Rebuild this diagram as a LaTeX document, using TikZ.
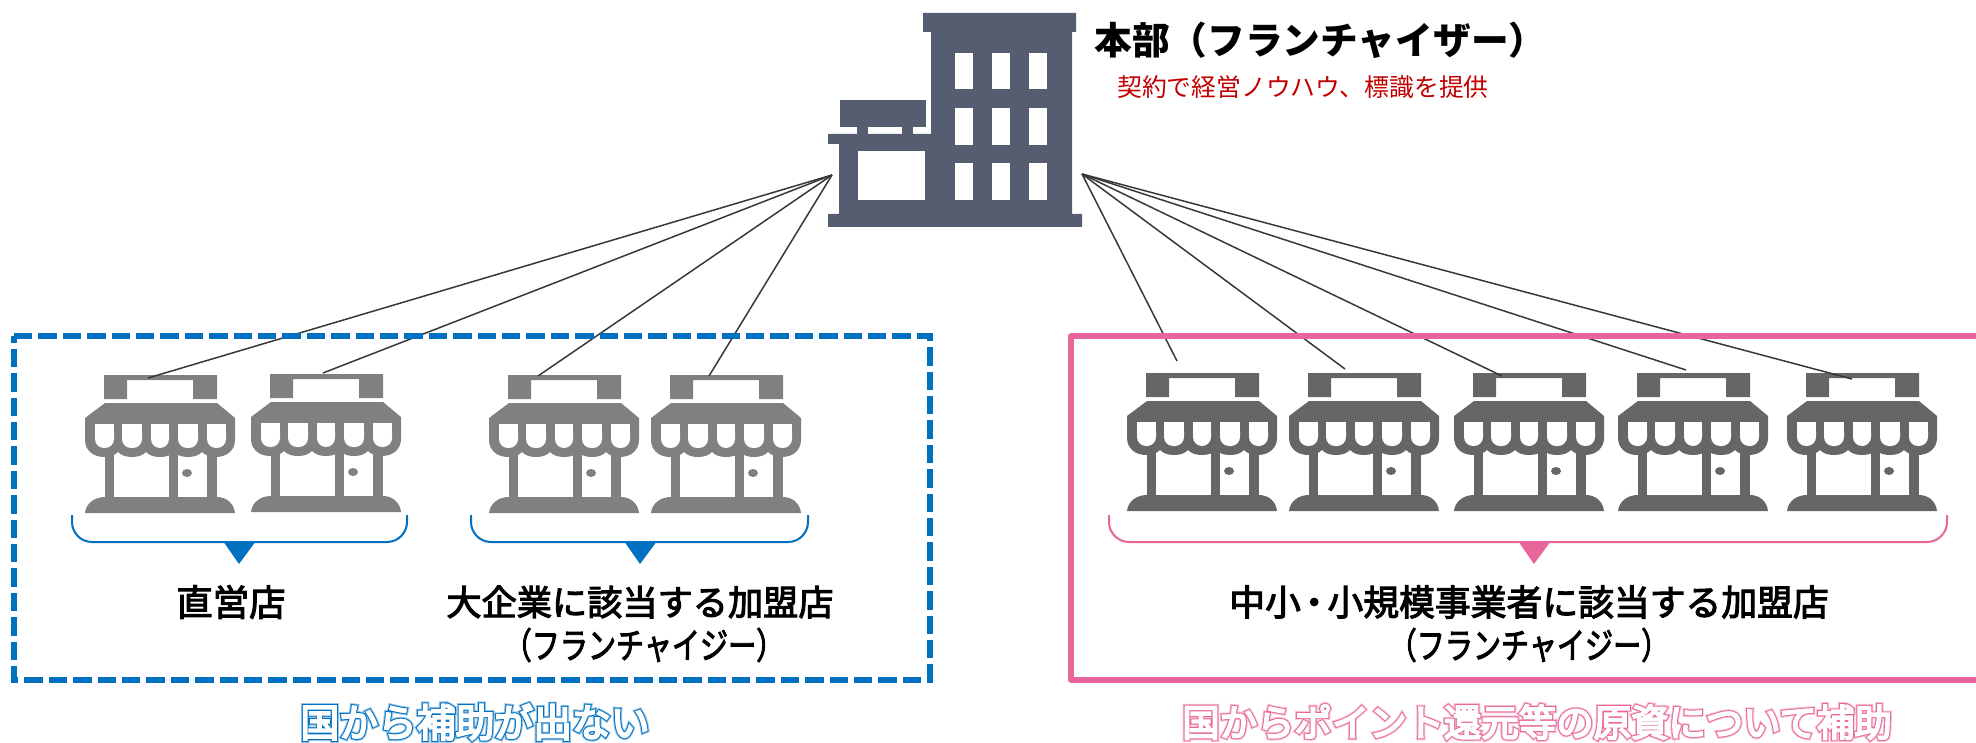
\documentclass[tikz,border=0pt]{standalone}
\usepackage{fontspec}
\setmainfont{Noto Sans CJK JP}
\newfontfamily\condfont[FakeStretch=0.78,FakeBold=2.4]{Noto Sans CJK JP}
\newfontfamily\labfont[FakeBold=3]{Noto Sans CJK JP}
\newfontfamily\glowA[FakeBold=15]{Noto Sans CJK JP}
\newfontfamily\glowB[FakeBold=10]{Noto Sans CJK JP}
\newfontfamily\glowC[FakeBold=5]{Noto Sans CJK JP}
\definecolor{bldg}{HTML}{575D70}
\definecolor{storeL}{HTML}{808080}
\definecolor{storeR}{HTML}{666666}
\definecolor{myblue}{HTML}{0070C0}
\definecolor{mypink}{HTML}{E8669A}
\definecolor{myred}{HTML}{C00000}
\definecolor{linegray}{HTML}{383838}
\tikzset{
  pics/store/.style={code={
    \fill[#1,even odd rule] (19,0) -- (132,0) -- (132,24) -- (108,24) -- (108,5) -- (42,5) -- (42,24) -- (19,24) -- cycle;
    \fill[#1] (20,28) -- (132,28) -- (150,43) -- (150,65)
      .. controls (150,75) and (142,82) .. (131,82)
      .. controls (124,82) and (120,80) .. (117,77)
      .. controls (114,80) and (110,82) .. (103,82)
      .. controls (96,82) and (92,80) .. (89,77)
      .. controls (86,80) and (82,82) .. (75,82)
      .. controls (68,82) and (64,80) .. (61,77)
      .. controls (58,80) and (54,82) .. (47,82)
      .. controls (40,82) and (36,80) .. (33,77)
      .. controls (30,80) and (26,82) .. (19,82)
      .. controls (8,82) and (0,75) .. (0,65) -- (0,43) -- cycle;
    \fill[#1] (20,75) rectangle (29,125);
    \fill[#1] (84,75) rectangle (93,125);
    \fill[#1] (122,75) rectangle (132,125);
    \fill[#1] (0,138) .. controls (1,128) and (10,122) .. (20,122) -- (132,122) .. controls (141,122) and (149,128) .. (150,138) -- cycle;
    \fill[#1] (102,98) ellipse (5 and 4);
    \foreach \a/\b in {10/29,37/57,66/84,93/113,122/141}{
      \fill[white,rounded corners=4.5pt] (\a,49) -- (\b,49) -- (\b,73) -- (\a,73) -- cycle;
      \fill[white] (\a,49) rectangle (\b,60);
    }
  }},
  bracketB/.style={myblue,line width=1pt,rounded corners=10pt},
  bracketP/.style={mypink,line width=1pt,rounded corners=10pt},
  spoke/.style={linegray,line width=0.75pt},
  lab/.style={inner sep=0pt,font=\fontsize{17.6}{20}\selectfont\labfont,text=black},
  sublab/.style={inner sep=0pt,font=\fontsize{18}{20}\selectfont\condfont,text=black},
  capblue/.style={inner sep=0pt,font=\fontsize{19.4}{22}\selectfont},
  cappink/.style={inner sep=0pt,font=\fontsize{18.7}{22}\selectfont}
}
\begin{document}
\begin{tikzpicture}[x=0.5pt,y=-0.5pt]
\useasboundingbox (0,0) rectangle (1976,743);
% building
\fill[bldg] (923,13) -- (1076,13) -- (1076,32) -- (1072,32) -- (1072,214) -- (1082,214) -- (1082,227) -- (828,227) -- (828,214) -- (839,214) -- (839,144) -- (828,144) -- (828,134) -- (931,134) -- (931,32) -- (923,32) -- cycle;
\fill[bldg] (840,100) rectangle (926,127);
\fill[bldg] (857,127) rectangle (868,134);
\fill[bldg] (902,127) rectangle (913,134);
\fill[white] (858,151) rectangle (925,200);
\foreach \x in {955,992,1029}\foreach \y/\h in {53/36,108/37,163/37}{
  \fill[white] (\x,\y) rectangle (\x+18,\y+\h);
}
% stores
\pic at (85,375) {store=storeL};
\pic at (251,374) {store=storeL};
\pic at (489,375) {store=storeL};
\pic at (651,375) {store=storeL};
\pic at (1127,373) {store=storeR};
\pic at (1289,373) {store=storeR};
\pic at (1454,373) {store=storeR};
\pic at (1618,373) {store=storeR};
\pic at (1787,373) {store=storeR};
% connector ends
\coordinate (apexL) at (832,175);
\coordinate (apexR) at (1082,174);
\coordinate (e1) at (148,378);
\coordinate (e2) at (323,373);
\coordinate (e3) at (538,376);
\coordinate (e4) at (709,376);
\coordinate (e5) at (1177,361);
\coordinate (e6) at (1345,369);
\coordinate (e7) at (1502,376);
\coordinate (e8) at (1686,370);
\coordinate (e9) at (1852,379);
\foreach \e in {e1,e2,e3,e4}{\draw[spoke] (apexL) -- (\e);}
\foreach \e in {e5,e6,e7,e8,e9}{\draw[spoke] (apexR) -- (\e);}
% group frames
\draw[myblue,line width=3pt,dash pattern=on 9.2pt off 3pt,line join=miter] (14,336) -- (930,336) -- (930,680) -- (14,680) -- cycle;
\draw[mypink,line width=3pt,line join=round] (1976,336) -- (1071,336) -- (1071,680) -- (1976,680);
% brackets
\draw[bracketB] (72,515) -- (72,542) -- (407,542) -- (407,515);
\draw[bracketB] (471,515) -- (471,542) -- (808,542) -- (808,515);
\draw[bracketP] (1109,515) -- (1109,542) -- (1947,542) -- (1947,515);
\fill[myblue] (223,541) -- (256,541) -- (239,564) -- cycle;
\fill[myblue] (624,541) -- (657,541) -- (640,564) -- cycle;
\fill[mypink] (1518,541) -- (1551,541) -- (1534,564) -- cycle;
% texts
\node[inner sep=0pt,anchor=west,text=black,font=\fontsize{18.85}{22}\selectfont\bfseries] (hq) at (1094,40) {本部（フランチャイザー）};
\node[inner sep=0pt,text=myred,font=\fontsize{12.4}{15}\selectfont] (hqsub) at (1303,87) {契約で経営ノウハウ、標識を提供};
\node[lab,font=\fontsize{18.2}{20}\selectfont\labfont] (direct) at (231,602) {直営店};
\node[lab] (large) at (640,602) {大企業に該当する加盟店};
\node[sublab] (fc1) at (644,645) {（フランチャイジー）};
\node[lab,font=\fontsize{17.9}{20}\selectfont\labfont] (small) at (1529,602) {中小\kern-2.3pt・\kern-2.3pt小規模事業者に該当する加盟店};
\node[sublab] (fc2) at (1529,645) {（フランチャイジー）};
% outlined captions
\node[capblue,text=myblue!40,font=\fontsize{19.4}{22}\selectfont\glowA] (capBa) at (475,722) {国から補助が出ない};
\node[capblue,text=myblue,font=\fontsize{19.4}{22}\selectfont\glowB] (capBb) at (475,722) {国から補助が出ない};
\node[capblue,text=white,font=\fontsize{19.4}{22}\selectfont\glowC] (capB) at (475,722) {国から補助が出ない};
\node[cappink,text=mypink!40,font=\fontsize{18.7}{22}\selectfont\glowA] (capPa) at (1537,722) {国からポイント還元等の原資について補助};
\node[cappink,text=mypink,font=\fontsize{18.7}{22}\selectfont\glowB] (capPb) at (1537,722) {国からポイント還元等の原資について補助};
\node[cappink,text=white,font=\fontsize{18.7}{22}\selectfont\glowC] (capP) at (1537,722) {国からポイント還元等の原資について補助};
\end{tikzpicture}
\end{document}
